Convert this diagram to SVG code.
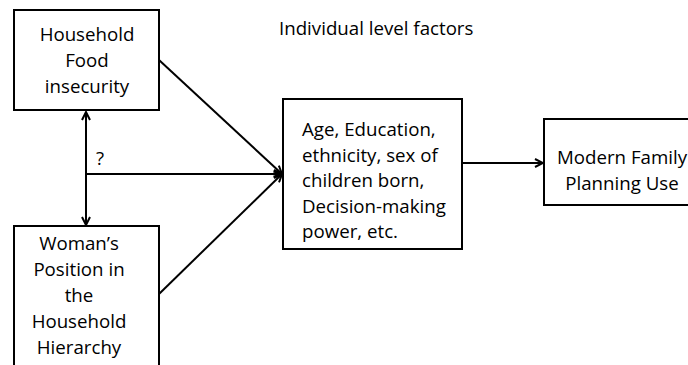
<svg xmlns="http://www.w3.org/2000/svg" width="688" height="365" viewBox="0 0 688 365">
<defs>
<style>
.box{fill:#fff;stroke:#000;stroke-width:2}
.t{font-family:"Open Sans",Lato,"Liberation Sans",sans-serif;font-size:18.7px;fill:#000}
.c{text-anchor:middle}
.ln{fill:none;stroke:#000;stroke-width:2}
</style>
<marker id="ah" viewBox="0 0 10 10" refX="9" refY="5" markerWidth="10" markerHeight="10" markerUnits="userSpaceOnUse" orient="auto-start-reverse">
<path d="M1,1 L9,5 L1,9" fill="none" stroke="#000" stroke-width="2"/>
</marker>
</defs>
<rect width="688" height="365" fill="#fff"/>
<g id="connectors">
<line class="ln" x1="86" y1="112" x2="86" y2="225" marker-start="url(#ah)" marker-end="url(#ah)"/>
<line class="ln" x1="86" y1="174" x2="282" y2="174" marker-end="url(#ah)"/>
<line class="ln" x1="159" y1="60" x2="282" y2="174" marker-end="url(#ah)"/>
<line class="ln" x1="159" y1="294" x2="282" y2="174" marker-end="url(#ah)"/>
<line class="ln" x1="462" y1="163" x2="543" y2="163" marker-end="url(#ah)"/>
<text class="t" x="96" y="165">?</text>
</g>
<g id="title">
<text class="t" x="279" y="35">Individual level factors</text>
</g>
<g id="food">
<rect class="box" x="14" y="10" width="145" height="100"/>
<text class="t c" x="87" y="41">Household</text>
<text class="t c" x="87" y="67">Food</text>
<text class="t c" x="87" y="93">insecurity</text>
</g>
<g id="woman">
<rect class="box" x="14" y="226" width="145" height="145"/>
<text class="t c" x="79" y="250">Woman’s</text>
<text class="t c" x="79" y="276">Position in</text>
<text class="t c" x="79" y="302">the</text>
<text class="t c" x="79" y="328">Household</text>
<text class="t c" x="79" y="354">Hierarchy</text>
</g>
<g id="individual">
<rect class="box" x="283" y="99" width="179" height="150"/>
<text class="t" x="302" y="136">Age, Education,</text>
<text class="t" x="302" y="162">ethnicity, sex of</text>
<text class="t" x="302" y="187">children born,</text>
<text class="t" x="302" y="213">Decision-making</text>
<text class="t" x="302" y="238">power, etc.</text>
</g>
<g id="fp">
<rect class="box" x="544" y="119" width="160" height="86"/>
<text class="t c" x="622" y="164">Modern Family</text>
<text class="t c" x="622" y="190">Planning Use</text>
</g>
</svg>
